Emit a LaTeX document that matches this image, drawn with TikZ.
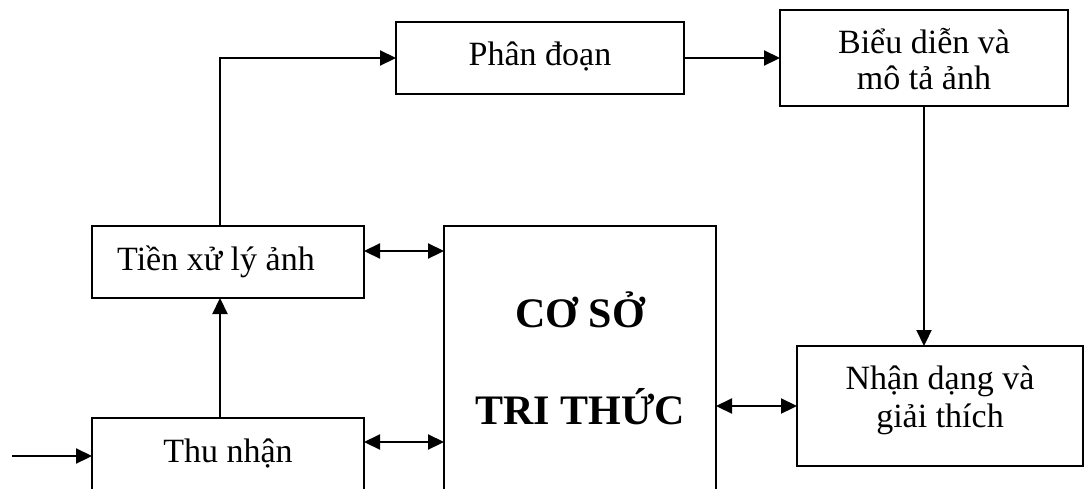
\documentclass[tikz,border=0pt]{standalone}
\usepackage{fontspec}
\setmainfont{Liberation Serif}
\usetikzlibrary{arrows.meta}
\begin{document}
\begin{tikzpicture}[x=1pt,y=-1pt,
  box/.style={draw, line width=1.8pt, rectangle, inner sep=0pt, outer sep=0pt},
  txt/.style={inner sep=0pt, font=\fontsize{34}{38}\selectfont, align=center},
  bigtxt/.style={inner sep=0pt, font=\fontsize{42}{97}\selectfont\bfseries, align=center},
  arr/.style={line width=2.2pt, -{Triangle[length=16pt,width=15pt]}},
  dbl/.style={line width=2.2pt, {Triangle[length=16pt,width=15pt]}-{Triangle[length=16pt,width=15pt]}}]
\useasboundingbox (0,0) rectangle (1084,488);
\clip (0,0) rectangle (1084,488);

% processing blocks
\node[box, minimum width=272, minimum height=90] (thu)  at (228,463) {};
\node[box, minimum width=272, minimum height=72] (tien) at (228,262) {};
\node[box, minimum width=272, minimum height=290] (cstt) at (580,371) {};
\node[box, minimum width=288, minimum height=72] (phan) at (540,58) {};
\node[box, minimum width=288, minimum height=96] (bieu) at (924,58) {};
\node[box, minimum width=286, minimum height=120] (nhan) at (940,406) {};

% block labels (base anchor = baseline of the last line)
\node[txt, anchor=base] (thuT) at (228,462) {Thu nhận};
\node[txt, anchor=base west] (tienT) at (117,270) {Tiền xử lý ảnh};
\node[txt, anchor=base] (phanT) at (540,65) {Phân đoạn};
\node[txt, anchor=base, font=\fontsize{34}{36}\selectfont] (bieuT) at (924,89) {Biểu diễn và\\mô tả ảnh};
\node[txt, anchor=base] (nhanT) at (940,427) {Nhận dạng và\\giải thích};
\node[bigtxt, anchor=base] (csttT) at (580,424) {CƠ SỞ\\TRI THỨC};

% helper positions for connectors
\coordinate (src) at (12,456);
\coordinate (col) at (220,0);
\coordinate (r1) at (0,251);
\coordinate (r2) at (0,442);
\coordinate (r3) at (0,406);

% main flow
\draw[arr] (src) -- (src -| thu.west);
\draw[arr] (col |- thu.north) -- (col |- tien.south);
\draw[arr] (col |- tien.north) |- (phan.west);
\draw[arr] (phan.east) -- (phan.east -| bieu.west);
\draw[arr] (bieu.south) -- (bieu.south |- nhan.north);

% exchanges with the knowledge base
\draw[dbl] (tien.east |- r1) -- (cstt.west |- r1);
\draw[dbl] (thu.east |- r2) -- (cstt.west |- r2);
\draw[dbl] (cstt.east |- r3) -- (nhan.west |- r3);
\end{tikzpicture}
\end{document}
